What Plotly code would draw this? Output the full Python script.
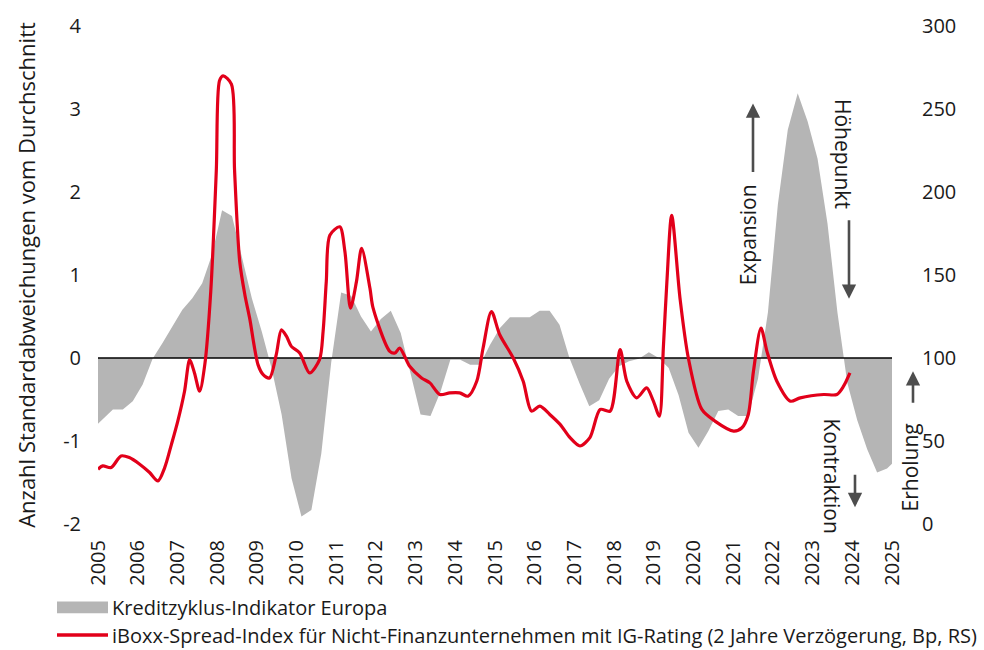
import plotly.graph_objects as go

# ---------------- data ----------------
# Kreditzyklus-Indikator Europa (quarterly, standard deviations from mean)
gray_values = [-0.85, -0.73, -0.62, -0.62, -0.52, -0.32, -0.01, 0.18, 0.38, 0.58,
               0.72, 0.90, 1.25, 1.78, 1.71, 1.20, 0.72, 0.32, -0.13, -0.68,
               -1.45, -1.91, -1.83, -1.15, -0.05, 0.79, 0.75, 0.50, 0.32, 0.47,
               0.57, 0.30, -0.18, -0.68, -0.70, -0.41, -0.02, -0.02, -0.08, -0.08,
               0.16, 0.36, 0.49, 0.49, 0.49, 0.57, 0.57, 0.40, 0.00, -0.30,
               -0.58, -0.51, -0.25, -0.10, -0.04, -0.01, 0.07, 0.00, -0.12, -0.45,
               -0.90, -1.08, -0.88, -0.64, -0.62, -0.70, -0.70, -0.25, 0.55, 1.85,
               2.75, 3.19, 2.85, 2.40, 1.62, 0.55, -0.30, -0.75, -1.10, -1.38,
               -1.33, -1.22]
gray_time = [2004.875 + 0.25 * i for i in range(len(gray_values))]  # quarter mid-points

# iBoxx spread index non-financials IG (2y lag, bp, right scale)
red_time = [2005.00, 2005.12, 2005.33, 2005.58, 2005.79, 2006.05, 2006.30, 2006.51, 2006.68, 2006.85,
            2007.01, 2007.18, 2007.31, 2007.43, 2007.56, 2007.69, 2007.84, 2007.98, 2008.06, 2008.15,
            2008.36, 2008.44, 2008.57, 2008.70, 2008.82, 2009.03, 2009.16, 2009.32, 2009.49, 2009.62,
            2009.75, 2009.87, 2010.08, 2010.33, 2010.58, 2010.67, 2010.75, 2010.84, 2011.09, 2011.22,
            2011.36, 2011.51, 2011.64, 2011.85, 2011.93, 2012.35, 2012.48, 2012.60, 2012.85, 2013.15,
            2013.36, 2013.61, 2013.86, 2014.11, 2014.32, 2014.54, 2014.70, 2014.91, 2015.12, 2015.46,
            2015.71, 2015.92, 2016.13, 2016.38, 2016.64, 2016.89, 2017.14, 2017.39, 2017.65, 2017.90,
            2018.15, 2018.32, 2018.57, 2018.82, 2018.99, 2019.14, 2019.24, 2019.33, 2019.45, 2019.66,
            2019.87, 2020.21, 2020.54, 2021.01, 2021.22, 2021.38, 2021.51, 2021.70, 2021.85, 2022.10,
            2022.44, 2022.69, 2023.28, 2023.61, 2023.78, 2023.94]
red_values = [33, 35, 34, 41, 40, 36, 31, 26, 34, 48,
              62, 80, 99, 91, 80, 96, 140, 213, 267, 270,
              265, 213, 158, 138, 124, 96, 90, 88, 102, 117,
              113, 107, 103, 91, 99, 116, 146, 174, 179, 164,
              130, 146, 166, 142, 130, 104, 103, 106, 95, 88,
              85, 78, 79, 79, 77, 86, 106, 128, 114, 100,
              86, 68, 71, 66, 60, 52, 47, 52, 69, 68,
              105, 86, 76, 82, 74, 65, 106, 146, 186, 136,
              100, 69, 62, 56, 58, 66, 92, 118, 104, 86,
              74, 76, 78, 78, 83, 91]

year_ticks = list(range(2005, 2026))
left_ticks = [-2, -1, 0, 1, 2, 3, 4]
right_ticks = [0, 50, 100, 150, 200, 250, 300]

gray_name = "Kreditzyklus-Indikator Europa"
red_name = "iBoxx-Spread-Index für Nicht-Finanzunternehmen mit IG-Rating (2 Jahre Verzögerung, Bp, RS)"

FONT = "Open Sans"
TXT = "#1a1a1a"
ARROW = "#4d4d4d"
GRAY = "#b5b5b5"
RED = "#e2001a"
TICK_SIZE = 20
LEGEND_SIZE = 20
TITLE_SIZE = 22
NOTE_SIZE = 21

fig = go.Figure()
fig.add_trace(go.Scatter(
    x=gray_time, y=gray_values, name=gray_name, mode="lines",
    line=dict(width=0, color=GRAY), fill="tozeroy", fillcolor=GRAY,
    yaxis="y", hoverinfo="skip", showlegend=False))
fig.add_trace(go.Scatter(
    x=[year_ticks[0], year_ticks[-1]], y=[0, 0], mode="lines", showlegend=False,
    line=dict(color="black", width=1.6), yaxis="y", hoverinfo="skip"))
fig.add_trace(go.Scatter(
    x=red_time, y=red_values, name=red_name, mode="lines",
    line=dict(color=RED, width=3.2, shape="spline", smoothing=0.8),
    yaxis="y2", showlegend=False))

fig.update_layout(
    width=984, height=650,
    margin=dict(l=98, r=92, t=22, b=126),
    paper_bgcolor="white", plot_bgcolor="white",
    font=dict(family=FONT, size=LEGEND_SIZE, color=TXT),
    showlegend=False,
    xaxis=dict(range=[2005, 2025], tickvals=year_ticks, ticktext=[str(y) for y in year_ticks],
               tickangle=-90, showgrid=False, zeroline=False, showline=False,
               ticks="", ticklabelstandoff=11, tickfont=dict(size=TICK_SIZE)),
    yaxis=dict(range=[-2, 4], tickvals=left_ticks, ticktext=[str(v) for v in left_ticks],
               showgrid=False, zeroline=False, showline=False, ticks="",
               ticklabelstandoff=16, tickfont=dict(size=TICK_SIZE),
               title=dict(text="Anzahl Standardabweichungen vom Durchschnitt",
                          font=dict(size=TITLE_SIZE), standoff=21)),
    yaxis2=dict(range=[0, 300], tickvals=right_ticks, overlaying="y", side="right",
                showgrid=False, zeroline=False, showline=False, ticks="",
                ticklabelstandoff=29, tickfont=dict(size=TICK_SIZE)),
)

def px_x(px):
    return (px - 98) / 794.0

def px_y(py):
    return (524 - py) / 502.0

# legend (drawn below the plot)
fig.add_shape(type="rect", xref="paper", yref="paper", x0=px_x(57), x1=px_x(108),
              y0=px_y(614), y1=px_y(602), fillcolor=GRAY, line=dict(width=0))
fig.add_shape(type="line", xref="paper", yref="paper", x0=px_x(57), x1=px_x(108),
              y0=px_y(636), y1=px_y(636), line=dict(color=RED, width=3.5))
for text, py in [(gray_name, 608), (red_name, 636)]:
    fig.add_annotation(text=text, x=px_x(110), y=px_y(py), xref="paper", yref="paper",
                       showarrow=False, xanchor="left", yanchor="middle",
                       font=dict(size=LEGEND_SIZE, color=TXT))

# rotated texts
for text, xp, yp, ang in [("Expansion", 748, 233, -90), ("Höhepunkt", 843, 151, 90),
                          ("Kontraktion", 832, 475, 90), ("Erholung", 910, 467, -90)]:
    fig.add_annotation(text=text, x=px_x(xp), y=px_y(yp), xref="paper", yref="paper",
                       textangle=ang, showarrow=False, xanchor="center", yanchor="middle",
                       font=dict(size=NOTE_SIZE, color=TXT))

# arrows (tip position, tail offset in px)
for xp, yp, ay in [(753, 100, 70), (849, 297, -80), (855, 507, -34), (913, 370, 33)]:
    fig.add_annotation(text="", x=px_x(xp), y=px_y(yp), xref="paper", yref="paper",
                       ax=0, ay=ay, showarrow=True, arrowhead=2, arrowsize=1.1,
                       arrowwidth=2.6, arrowcolor=ARROW)

fig.write_html("out.html", config={"displayModeBar": False},
               post_script="document.body.style.margin='0';")
